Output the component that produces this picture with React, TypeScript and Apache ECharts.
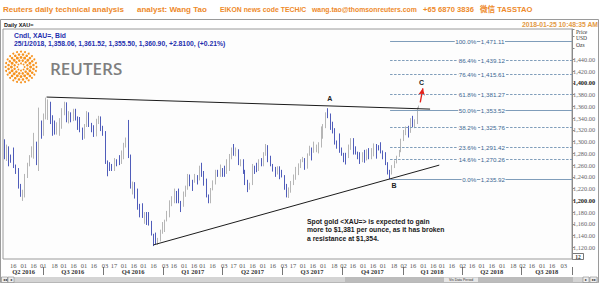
import React, { useEffect, useRef } from 'react';
import * as echarts from 'echarts';

// ---- Data: half-week candles (Mon-Wed, Thu-Fri), gold spot XAU= ----
const firstOpen = 1290;
const closes = [
  1275, 1290, 1276, 1272, 1258, 1252, 1224, 1212, 1215, 1242, 1262, 1275, 1290, 1298, 1266, 1322,
  1316, 1340, 1365, 1366, 1341, 1327, 1317, 1322, 1336, 1351, 1358, 1336, 1346, 1336, 1349, 1341,
  1325, 1322, 1308, 1326, 1348, 1328, 1322, 1310, 1335, 1338, 1324, 1316, 1266, 1257, 1254, 1252,
  1268, 1266, 1265, 1276, 1296, 1304, 1275, 1226, 1227, 1209, 1189, 1180, 1173, 1177, 1176, 1160,
  1142, 1134, 1132, 1133, 1145, 1151, 1165, 1173, 1196, 1197, 1212, 1210, 1198, 1191, 1209, 1220,
  1241, 1234, 1232, 1236, 1235, 1257, 1249, 1234, 1209, 1203, 1219, 1229, 1248, 1243, 1250, 1249,
  1248, 1254, 1275, 1288, 1280, 1284, 1264, 1268, 1248, 1228, 1219, 1228, 1258, 1254, 1251, 1267,
  1266, 1279, 1292, 1266, 1261, 1254, 1247, 1256, 1249, 1242, 1226, 1209, 1219, 1228, 1241, 1255,
  1261, 1268, 1269, 1257, 1277, 1289, 1285, 1286, 1287, 1291, 1308, 1325, 1349, 1346, 1322, 1320,
  1301, 1297, 1284, 1280, 1276, 1274, 1288, 1304, 1283, 1280, 1278, 1267, 1277, 1269, 1282, 1274,
  1279, 1294, 1292, 1288, 1282, 1280, 1264, 1248, 1247, 1256, 1266, 1275, 1283, 1302, 1313, 1320,
  1318, 1338, 1327, 1333, 1358.06, 1360.9,
];
const lows = [
  1270, 1267, 1258, 1264, 1255, 1245, 1220, 1206, 1199, 1205, 1238, 1258, 1273, 1271, 1260, 1250,
  1305, 1310, 1338, 1337, 1330, 1310, 1312, 1312, 1310, 1322, 1345, 1333, 1331, 1333, 1335, 1336,
  1320, 1316, 1303, 1305, 1325, 1325, 1316, 1308, 1309, 1330, 1318, 1310, 1262, 1241, 1250, 1250,
  1250, 1258, 1260, 1262, 1270, 1290, 1272, 1220, 1210, 1203, 1184, 1171, 1170, 1160, 1158, 1157,
  1140, 1122, 1125, 1124, 1130, 1143, 1146, 1164, 1171, 1190, 1195, 1195, 1195, 1180, 1189, 1206,
  1218, 1224, 1216, 1230, 1227, 1234, 1240, 1225, 1205, 1195, 1195, 1217, 1227, 1240, 1240, 1240,
  1240, 1245, 1250, 1270, 1276, 1275, 1260, 1258, 1245, 1226, 1214, 1218, 1226, 1245, 1248, 1250,
  1258, 1258, 1276, 1265, 1258, 1249, 1240, 1244, 1236, 1239, 1218, 1205, 1204, 1213, 1226, 1235,
  1243, 1255, 1265, 1252, 1254, 1276, 1268, 1281, 1282, 1280, 1290, 1305, 1323, 1340, 1320, 1314,
  1295, 1288, 1281, 1276, 1265, 1261, 1272, 1286, 1278, 1278, 1270, 1262, 1265, 1264, 1268, 1270,
  1270, 1275, 1271, 1285, 1280, 1270, 1260, 1244, 1236, 1244, 1255, 1263, 1274, 1282, 1301, 1311,
  1307, 1315, 1325, 1323, 1330, 1355.5,
];
const highs = [
  1304, 1295, 1292, 1278, 1290, 1261, 1255, 1228, 1218, 1245, 1264, 1277, 1292, 1315, 1300, 1358,
  1336, 1348, 1375, 1372, 1368, 1345, 1336, 1333, 1340, 1357, 1368, 1367, 1352, 1350, 1356, 1356,
  1343, 1342, 1324, 1330, 1352, 1350, 1332, 1328, 1339, 1344, 1343, 1327, 1318, 1268, 1265, 1262,
  1272, 1270, 1277, 1285, 1298, 1307, 1337, 1278, 1232, 1231, 1220, 1194, 1195, 1180, 1180, 1180,
  1165, 1143, 1145, 1136, 1150, 1163, 1167, 1182, 1200, 1207, 1220, 1216, 1220, 1199, 1215, 1225,
  1245, 1244, 1235, 1245, 1243, 1259, 1264, 1250, 1237, 1210, 1221, 1234, 1252, 1252, 1261, 1255,
  1259, 1270, 1279, 1290, 1296, 1290, 1287, 1270, 1270, 1252, 1235, 1230, 1262, 1259, 1264, 1270,
  1272, 1282, 1296, 1294, 1276, 1262, 1257, 1258, 1258, 1252, 1243, 1228, 1222, 1233, 1244, 1257,
  1263, 1270, 1274, 1272, 1280, 1293, 1290, 1300, 1295, 1299, 1326, 1330, 1350, 1357, 1348, 1334,
  1323, 1302, 1314, 1290, 1281, 1281, 1295, 1306, 1306, 1292, 1283, 1282, 1282, 1286, 1287, 1289,
  1289, 1297, 1296, 1294, 1299, 1285, 1282, 1265, 1252, 1260, 1268, 1276, 1286, 1305, 1320, 1326,
  1327, 1340, 1344, 1338, 1358.5, 1361.52,
];

const xTickDates = [
  '2016-05-16', '2016-06-01', '2016-06-16', '2016-07-01', '2016-07-18', '2016-08-01', '2016-08-16',
  '2016-09-01', '2016-09-16', '2016-10-03', '2016-10-17', '2016-11-01', '2016-11-16', '2016-12-01',
  '2016-12-16', '2017-01-03', '2017-01-16', '2017-02-01', '2017-02-16', '2017-03-01', '2017-03-16',
  '2017-04-03', '2017-04-17', '2017-05-01', '2017-05-16', '2017-06-01', '2017-06-16', '2017-07-03',
  '2017-07-17', '2017-08-01', '2017-08-16', '2017-09-01', '2017-09-18', '2017-10-02', '2017-10-16',
  '2017-11-01', '2017-11-16', '2017-12-01', '2017-12-18', '2018-01-02', '2018-01-16', '2018-02-01',
  '2018-02-16', '2018-03-01', '2018-03-16', '2018-04-02', '2018-04-16', '2018-05-01', '2018-05-16',
  '2018-06-01', '2018-06-18', '2018-07-02', '2018-07-16', '2018-08-01', '2018-08-16', '2018-09-03',
];
const quarterNames = ['Q2 2016', 'Q3 2016', 'Q4 2016', 'Q1 2017', 'Q2 2017', 'Q3 2017', 'Q4 2017', 'Q1 2018', 'Q2 2018', 'Q3 2018'];
const quarterLabelDates = ['2016-06-01', '2016-08-15', '2016-11-15', '2017-02-14', '2017-05-16', '2017-08-15', '2017-11-15', '2018-02-14', '2018-05-16', '2018-08-08'];
const quarterStarts = ['2016-07-01', '2016-10-01', '2017-01-01', '2017-04-01', '2017-07-01', '2017-10-01', '2018-01-01', '2018-04-01', '2018-07-01'];

const fibPct = ['100.0%', '86.4%', '76.4%', '61.8%', '50.0%', '38.2%', '23.6%', '14.6%', '0.0%'];
const fibValues = [1471.11, 1439.12, 1415.61, 1381.27, 1353.52, 1325.76, 1291.42, 1270.26, 1235.92];
const fibSolid = [true, false, false, false, true, false, false, false, true];
const fibStart = '2017-12-12';

const upperTrend = [['2016-07-06', 1376], ['2018-02-11', 1355.5]];
const lowerTrend = [['2016-12-16', 1124], ['2018-02-25', 1260]];
const arrowC = [['2018-01-27', 1367], ['2018-01-31', 1391]];
const waveLabels = [
  { name: 'A', coord: ['2017-09-11', 1374] },
  { name: 'B', coord: ['2017-12-18', 1225] },
  { name: 'C', coord: ['2018-01-29', 1400] },
];
const lastPrice = 1360.9;

// ---- derived structures ----
const DAY = 86400000;
const iso = (t: number) => new Date(t).toISOString().slice(0, 10);
const categories: string[] = [];
for (let t = Date.UTC(2016, 4, 1); t <= Date.UTC(2018, 8, 15); t += DAY) categories.push(iso(t));
const nWeeks = closes.length / 2;
const candleDates: string[] = [];
for (let w = 0; w < nWeeks; w++) {
  const mon = Date.UTC(2016, 4, 2) + w * 7 * DAY;
  candleDates.push(iso(mon + DAY));
  candleDates.push(iso(mon + (w === nWeeks - 1 ? 3 : 4) * DAY));
}
const candleData = candleDates.map((d, i) => [d, i === 0 ? firstOpen : closes[i - 1], closes[i], lows[i], highs[i]]);

const tickSet = new Set(xTickDates);
const qStartSet = new Set(quarterStarts);
const qLabelMap = new Map(quarterLabelDates.map((d, i) => [d, quarterNames[i]]));

const fmtNum = (v: number) =>
  v.toLocaleString('en-US', { minimumFractionDigits: 2, maximumFractionDigits: 2 });

const SANS = "'Liberation Sans', Arial, sans-serif";
const SERIF = "'Liberation Serif', 'DejaVu Serif', serif";
const ORANGE = '#ee8a2b';
const BLUE = '#1f2fae';

function logoDots() {
  const out: any[] = [];
  const cx = 21, cy = 67;
  const radii = [3.6, 6.6, 9.6, 12.6, 15.4];
  const counts = [8, 12, 16, 20, 24];
  const sizes = [0.9, 1.25, 1.45, 1.3, 1.0];
  radii.forEach((r, k) => {
    for (let j = 0; j < counts[k]; j++) {
      const a = (j / counts[k]) * Math.PI * 2 + (k % 2) * (Math.PI / counts[k]);
      out.push({
        type: 'circle',
        shape: { cx: cx + r * Math.cos(a), cy: cy + r * Math.sin(a), r: sizes[k] },
        style: { fill: '#f6921e' },
        silent: true,
      });
    }
  });
  return out;
}

function txt(text: string, x: number, y: number, font: string, fill: string, align = 'left', scaleX = 1) {
  return { type: 'text', x, y, scaleX, silent: true, style: { text, font, fill, align, verticalAlign: 'middle' } };
}

const TITLE_FONT = `bold 8px ${SANS}, 'Noto Sans CJK SC'`;

const graphics: any[] = [
  txt('Reuters daily technical analysis', 3, 9, TITLE_FONT, ORANGE),
  txt('analyst: Wang Tao', 137, 9, TITLE_FONT, ORANGE),
  txt('EIKON news code TECH/C', 220, 9, TITLE_FONT, ORANGE, 'left', 0.86),
  txt('wang.tao@thomsonreuters.com', 312, 9, TITLE_FONT, ORANGE, 'left', 0.86),
  txt('+65 6870 3836', 423, 9, TITLE_FONT, ORANGE, 'left', 0.95),
  txt('微信 TASSTAO', 480, 9, TITLE_FONT, ORANGE, 'left', 0.95),
  { type: 'rect', silent: true, shape: { x: 0.5, y: 19.5, width: 598, height: 263 }, style: { fill: 'none', stroke: '#9a9a9a', lineWidth: 1 } },
  txt('Daily XAU=', 4, 24.5, `bold 5.5px ${SANS}`, '#111'),
  txt('2018-01-25 10:48:35 AM', 598, 24.5, `bold 6.8px ${SANS}`, '#e39a45', 'right'),
  txt('Cndl, XAU=, Bid', 14, 35.7, `bold 6.8px ${SANS}`, BLUE),
  txt('25/1/2018, 1,358.06, 1,361.52, 1,355.50, 1,360.90, +2.8100, (+0.21%)', 14, 43.3, `bold 6.8px ${SANS}`, BLUE),
  txt('Price', 576, 31.7, `5.5px ${SERIF}`, '#333'),
  txt('USD', 576, 38, `5.5px ${SERIF}`, '#333'),
  txt('Ozs', 576, 44.5, `5.5px ${SERIF}`, '#333'),
  ...logoDots(),
  txt('REUTERS', 50, 68.5, `600 17px 'Open Sans', ${SANS}`, '#7f7f7f'),
  txt('Spot gold <XAU=> is expected to gain', 307, 221, `bold 6.8px ${SANS}`, '#1a1a1a'),
  txt('more to $1,381 per ounce, as it has broken', 307, 229.5, `bold 6.8px ${SANS}`, '#1a1a1a'),
  txt('a resistance at $1,354.', 307, 238, `bold 6.8px ${SANS}`, '#1a1a1a'),
  { type: 'rect', silent: true, shape: { x: 572.5, y: 253.5, width: 11, height: 6 }, style: { fill: '#fff', stroke: '#555', lineWidth: 0.8 } },
  txt('12', 578, 256.7, `bold 5.5px ${SERIF}`, '#333', 'center'),
  // scrollbar
  { type: 'rect', silent: true, shape: { x: 1, y: 277, width: 597, height: 5.5 }, style: { fill: '#d4d4d4' } },
  { type: 'rect', silent: true, shape: { x: 345, y: 277, width: 228, height: 5.5 }, style: { fill: '#bcbcbc' } },
  { type: 'rect', silent: true, shape: { x: 444, y: 277.5, width: 34, height: 4.5 }, style: { fill: '#e6e6e6' } },
  txt('Vis Data Period', 461, 279.8, `3.5px ${SANS}`, '#333', 'center'),
  { type: 'rect', silent: true, shape: { x: 1.5, y: 277, width: 6, height: 5.5 }, style: { fill: '#eee', stroke: '#888', lineWidth: 0.6 } },
  { type: 'rect', silent: true, shape: { x: 8, y: 277, width: 6, height: 5.5 }, style: { fill: '#eee', stroke: '#888', lineWidth: 0.6 } },
  txt('◂◂', 4.5, 279.8, `4px ${SANS}`, '#222', 'center'),
  txt('◂', 11, 279.8, `4px ${SANS}`, '#222', 'center'),
  { type: 'rect', silent: true, shape: { x: 583, y: 277, width: 6, height: 5.5 }, style: { fill: '#eee', stroke: '#888', lineWidth: 0.6 } },
  { type: 'rect', silent: true, shape: { x: 590, y: 277, width: 7, height: 5.5 }, style: { fill: '#eee', stroke: '#888', lineWidth: 0.6 } },
  txt('▸', 586, 279.8, `4px ${SANS}`, '#222', 'center'),
  txt('▸▸', 593.5, 279.8, `4px ${SANS}`, '#222', 'center'),
];

const lineBlack = { color: '#1c1c1c', width: 1, type: 'solid' };

const option: any = {
  animation: false,
  backgroundColor: '#ffffff',
  grid: { left: 3, right: 28, top: 29, bottom: 24, show: true, borderColor: '#9a9a9a', borderWidth: 1, backgroundColor: '#fdfdfd' },
  xAxis: [
    {
      type: 'category',
      data: categories,
      boundaryGap: true,
      axisLine: { show: false },
      axisTick: { show: false },
      splitLine: { show: false },
      axisLabel: {
        interval: (_i: number, v: string) => tickSet.has(v),
        formatter: (v: string) => v.slice(8),
        margin: 2.5,
        fontSize: 6.5,
        fontFamily: SERIF,
        color: '#555',
      },
    },
    {
      type: 'category',
      data: categories,
      position: 'bottom',
      offset: 8,
      boundaryGap: true,
      axisLine: { show: false },
      axisTick: { show: true, interval: (_i: number, v: string) => qStartSet.has(v), length: 8, lineStyle: { color: '#777', width: 1 } },
      splitLine: { show: false },
      axisLabel: {
        interval: (_i: number, v: string) => qLabelMap.has(v),
        formatter: (v: string) => qLabelMap.get(v) || '',
        margin: 1,
        fontSize: 6.5,
        fontWeight: 'bold',
        fontFamily: SERIF,
        color: '#333',
      },
    },
  ],
  yAxis: {
    type: 'value',
    position: 'right',
    min: 1100,
    max: 1492,
    interval: 20,
    splitLine: { show: false },
    axisLine: { show: true, lineStyle: { color: '#8a8a8a' } },
    axisTick: { show: true, length: 2.5, lineStyle: { color: '#8a8a8a' } },
    axisLabel: {
      margin: 1,
      formatter: (v: number) => (v > 1440 || v < 1120 ? '' : v === 1400 || v === 1200 ? `{b|${fmtNum(v)}}` : `{n|${fmtNum(v)}}`),
      rich: {
        n: { fontSize: 6.3, fontFamily: SERIF, color: '#666' },
        b: { fontSize: 6.3, fontFamily: SERIF, color: '#222', fontWeight: 'bold' },
      },
    },
  },
  series: [
    {
      type: 'candlestick',
      xAxisIndex: 0,
      data: candleData,
      encode: { x: 0, y: [1, 2, 3, 4] },
      large: false,
      barWidth: 1.2,
      itemStyle: { color: '#a3a3a3', color0: '#2334a8', borderColor: '#a3a3a3', borderColor0: '#2334a8', borderWidth: 0.8 },
      markLine: {
        silent: true,
        animation: false,
        symbol: ['none', 'none'],
        label: { show: false },
        data: [
          [{ coord: upperTrend[0], lineStyle: lineBlack }, { coord: upperTrend[1] }],
          [{ coord: lowerTrend[0], lineStyle: lineBlack }, { coord: lowerTrend[1] }],
          [
            { coord: arrowC[0], lineStyle: { color: '#e3231c', width: 1.4, type: 'solid' }, itemStyle: { color: '#e3231c' } },
            { coord: arrowC[1], symbol: 'arrow', symbolSize: [5, 7], itemStyle: { color: '#e3231c' } },
          ],
          {
            yAxis: lastPrice,
            lineStyle: { opacity: 0 },
            label: {
              show: true,
              position: 'end',
              distance: 0.5,
              formatter: fmtNum(lastPrice),
              color: '#ffffff',
              backgroundColor: '#1414c4',
              padding: [1, 2, 1, 2],
              fontSize: 6.3,
              fontFamily: SERIF,
            },
          },
        ],
      },
      markPoint: {
        symbol: 'circle',
        symbolSize: 1,
        itemStyle: { color: 'rgba(0,0,0,0)' },
        label: { show: true, position: 'inside', formatter: '{b}', color: '#222', fontSize: 7, fontWeight: 'bold', fontFamily: SANS },
        data: waveLabels,
      },
    },
    {
      type: 'custom',
      xAxisIndex: 0,
      data: fibValues.map((v, i) => [fibStart, v, i]),
      encode: { x: 0, y: 1 },
      z: 5,
      renderItem: (params: any, api: any) => {
        const v = api.value(1) as number;
        const idx = api.value(2) as number;
        const p0 = api.coord([api.value(0), v]);
        const cs = params.coordSys;
        const x2 = cs.x + cs.width;
        const y = Math.round(p0[1]) + 0.5;
        const mid = (p0[0] + x2) / 2 - 2.5;
        const font = `6.2px ${SANS}`;
        return {
          type: 'group',
          children: [
            { type: 'line', shape: { x1: p0[0], y1: y, x2, y2: y }, style: { stroke: '#7f9dba', lineWidth: 1, lineDash: fibSolid[idx] ? null : [2.5, 1.5] } },
            { type: 'text', style: { text: fibPct[idx], x: mid - 1.8, y, align: 'right', verticalAlign: 'middle', fill: '#3a6792', font, backgroundColor: '#fdfdfd', padding: [0, 0.5] } },
            { type: 'text', style: { text: fmtNum(fibValues[idx]), x: mid + 1.8, y, align: 'left', verticalAlign: 'middle', fill: '#3a6792', font, backgroundColor: '#fdfdfd', padding: [0, 0.5] } },
          ],
        };
      },
    },
  ],
  graphic: graphics,
};

export default function App() {
  const ref = useRef<HTMLDivElement>(null);
  useEffect(() => {
    document.body.style.margin = '0';
    const chart = echarts.init(ref.current!, undefined, { renderer: 'svg', width: 600, height: 283 });
    chart.setOption(option);
    return () => chart.dispose();
  }, []);
  return <div ref={ref} style={{ width: 600, height: 283 }} />;
}
